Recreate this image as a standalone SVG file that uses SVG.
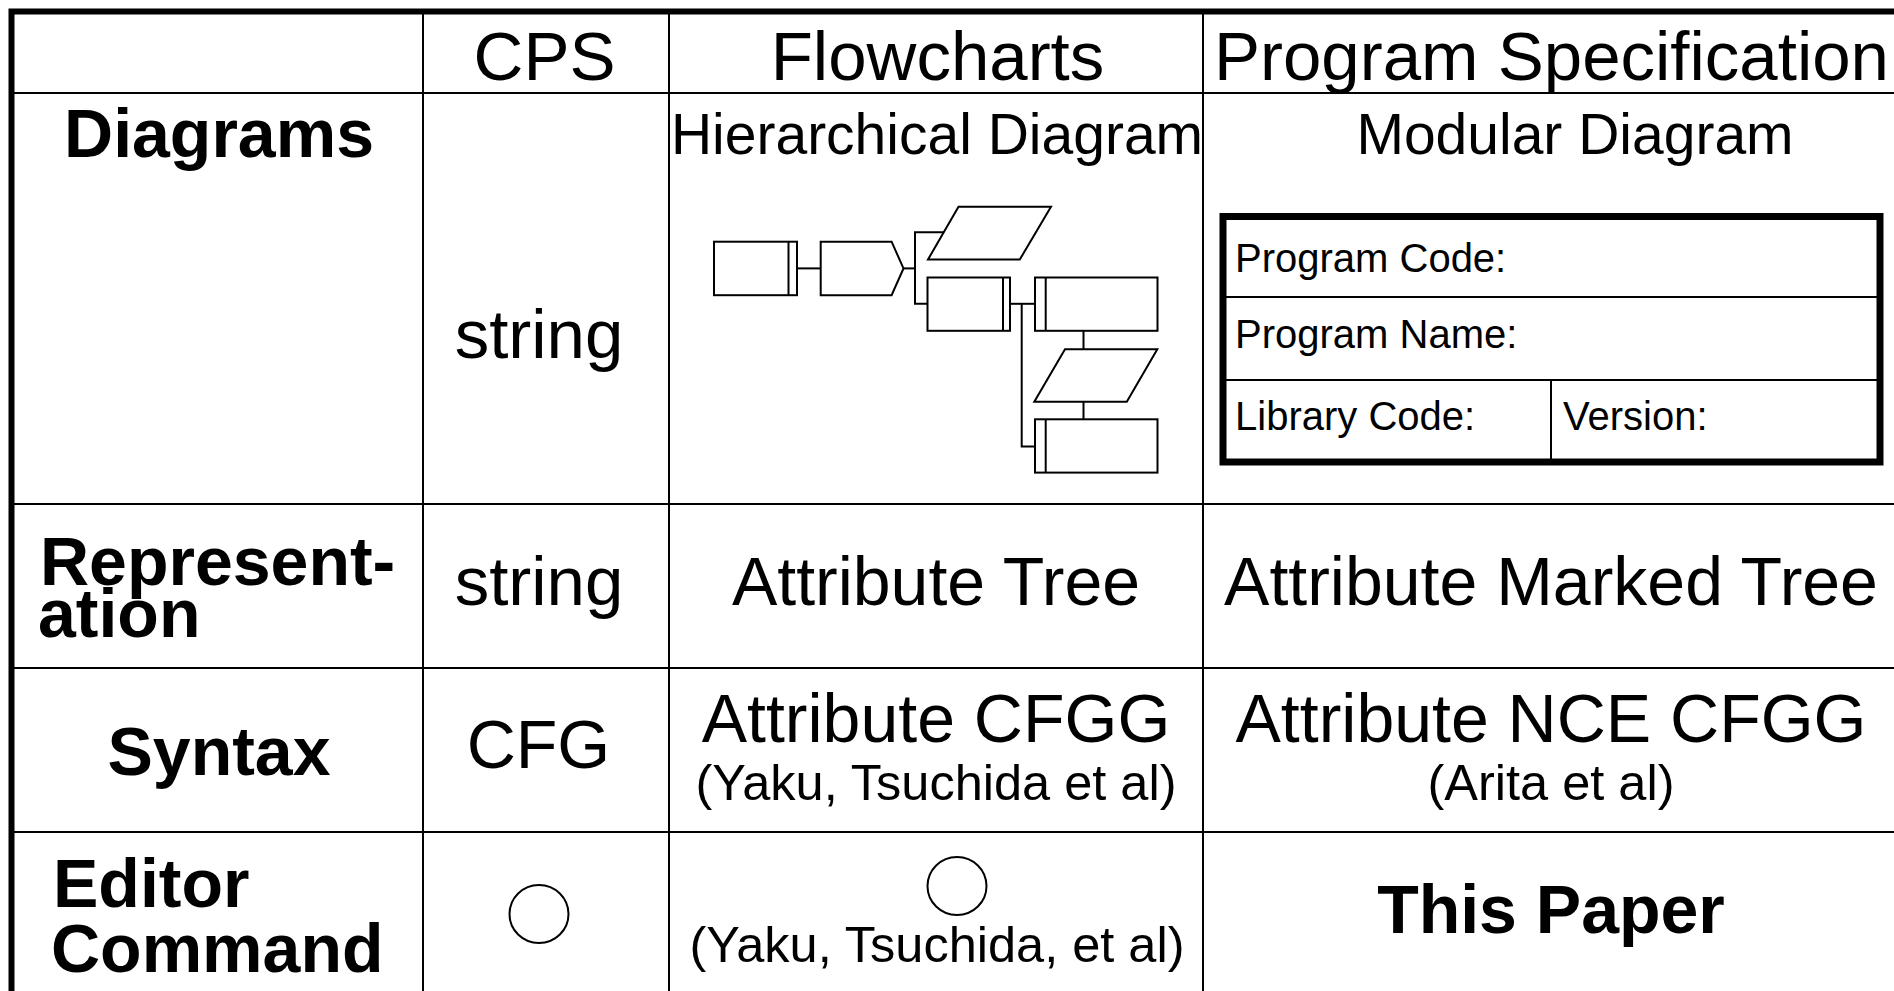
<svg xmlns="http://www.w3.org/2000/svg" width="1894" height="991" viewBox="0 0 1894 991">
  <style>
    .grid { stroke: #000; stroke-width: 2; fill: none; }
    .frame { stroke: #000; stroke-width: 6; fill: none; }
    .t { font-family: "Liberation Sans", Arial, Helvetica, sans-serif; fill: #000; }
    .b { font-weight: bold; }
    .hd { font-size: 69px; }
    .big { font-size: 68px; }
    .mid { font-size: 57px; }
    .cite { font-size: 50.5px; }
    .form { font-size: 40px; }
    .c { text-anchor: middle; }
    .shape { stroke: #000; stroke-width: 2; fill: #fff; stroke-linejoin: miter; }
    .link { stroke: #000; stroke-width: 2; fill: none; }
    .mark { stroke: #000; stroke-width: 2; fill: none; }
  </style>

  <rect width="1894" height="991" fill="#fff"/>

  <!-- table rules -->
  <g id="table">
    <line class="grid" x1="12" y1="93" x2="1894" y2="93"/>
    <line class="grid" x1="12" y1="504" x2="1894" y2="504"/>
    <line class="grid" x1="12" y1="668" x2="1894" y2="668"/>
    <line class="grid" x1="12" y1="832" x2="1894" y2="832"/>
    <line class="grid" x1="423" y1="12" x2="423" y2="991"/>
    <line class="grid" x1="669" y1="12" x2="669" y2="991"/>
    <line class="grid" x1="1203" y1="12" x2="1203" y2="991"/>
    <rect class="frame" x="11.5" y="11.5" width="1890" height="1000"/>
  </g>

  <!-- column headings -->
  <g id="head-cps"><text class="t hd c" x="544.5" y="80">CPS</text></g>
  <g id="head-flow"><text class="t hd c" x="937.5" y="80">Flowcharts</text></g>
  <g id="head-spec"><text class="t hd c" x="1551.5" y="80">Program Specification</text></g>

  <!-- row headings -->
  <g id="row-diagrams"><text class="t b big c" x="219" y="157">Diagrams</text></g>
  <g id="row-representation">
    <text class="t b big" x="40" y="585">Represent-</text>
    <text class="t b big" x="38" y="637">ation</text>
  </g>
  <g id="row-syntax"><text class="t b big c" x="219" y="775">Syntax</text></g>
  <g id="row-editor">
    <text class="t b big" x="53" y="907">Editor</text>
    <text class="t b big" x="51" y="972">Command</text>
  </g>

  <!-- CPS column -->
  <g id="cps-diagram"><text class="t hd c" x="539" y="358">string</text></g>
  <g id="cps-repr"><text class="t hd c" x="539" y="605">string</text></g>
  <g id="cps-syntax"><text class="t big c" x="538.5" y="768">CFG</text></g>
  <g id="cps-editor"><ellipse class="mark" cx="539" cy="914" rx="29.5" ry="29"/></g>

  <!-- Flowcharts column -->
  <g id="flow-diagram-title"><text class="t mid c" x="937" y="154">Hierarchical Diagram</text></g>

  <g id="hd-box1" class="node">
    <rect class="shape" x="714" y="241.7" width="83" height="53.5"/>
    <line class="link" x1="788.5" y1="241.7" x2="788.5" y2="295.2"/>
  </g>
  <g id="hd-box2" class="node">
    <polygon class="shape" points="820.7,241.7 891.6,241.7 903.5,268.4 891.6,295.2 820.7,295.2"/>
  </g>
  <g id="hd-io1" class="node">
    <polygon class="shape" points="958.5,206.7 1051,206.7 1019.8,259.5 928,259.5"/>
  </g>
  <g id="hd-box3" class="node">
    <rect class="shape" x="927.5" y="277.5" width="82.5" height="53.3"/>
    <line class="link" x1="1003" y1="277.5" x2="1003" y2="330.8"/>
  </g>
  <g id="hd-box4" class="node">
    <rect class="shape" x="1035" y="277.5" width="122.5" height="53.3"/>
    <line class="link" x1="1045.7" y1="277.5" x2="1045.7" y2="330.8"/>
  </g>
  <g id="hd-io2" class="node">
    <polygon class="shape" points="1065,349.3 1157.3,349.3 1126.8,401.7 1034.3,401.7"/>
  </g>
  <g id="hd-box5" class="node">
    <rect class="shape" x="1035" y="419.3" width="122.5" height="53.3"/>
    <line class="link" x1="1045.7" y1="419.3" x2="1045.7" y2="472.6"/>
  </g>

  <g id="hd-links">
    <line class="link" x1="797" y1="268.4" x2="820.7" y2="268.4"/>
    <line class="link" x1="903.5" y1="268.4" x2="915" y2="268.4"/>
    <polyline class="link" points="944,232.3 915,232.3 915,303.8 927.5,303.8"/>
    <line class="link" x1="1010" y1="303.8" x2="1035" y2="303.8"/>
    <polyline class="link" points="1021.7,303.8 1021.7,446.5 1035,446.5"/>
    <line class="link" x1="1083.5" y1="330.8" x2="1083.5" y2="349.3"/>
    <line class="link" x1="1083.5" y1="401.7" x2="1083.5" y2="419.3"/>
  </g>

  <g id="flow-repr"><text class="t big c" x="936" y="605">Attribute Tree</text></g>
  <g id="flow-syntax">
    <text class="t big c" x="936" y="742">Attribute CFGG</text>
    <text class="t cite c" x="936" y="800">(Yaku, Tsuchida et al)</text>
  </g>
  <g id="flow-editor">
    <ellipse class="mark" cx="957" cy="886" rx="29.5" ry="29"/>
    <text class="t cite c" x="937" y="962">(Yaku, Tsuchida, et al)</text>
  </g>

  <!-- Program Specification column -->
  <g id="spec-diagram-title"><text class="t mid c" x="1575" y="154">Modular Diagram</text></g>
  <g id="spec-form">
    <rect x="1223" y="216.5" width="657" height="245.5" fill="#fff" stroke="#000" stroke-width="7"/>
    <line class="grid" x1="1223" y1="297" x2="1880" y2="297"/>
    <line class="grid" x1="1223" y1="380" x2="1880" y2="380"/>
    <line class="grid" x1="1551" y1="380" x2="1551" y2="462"/>
    <text class="t form" x="1235" y="272">Program Code:</text>
    <text class="t form" x="1235" y="348">Program Name:</text>
    <text class="t form" x="1235" y="430">Library Code:</text>
    <text class="t form" x="1563" y="430">Version:</text>
  </g>
  <g id="spec-repr"><text class="t big c" x="1551" y="605">Attribute Marked Tree</text></g>
  <g id="spec-syntax">
    <text class="t big c" x="1551" y="742">Attribute NCE CFGG</text>
    <text class="t cite c" x="1551" y="800">(Arita et al)</text>
  </g>
  <g id="spec-editor"><text class="t b big c" x="1551" y="933">This Paper</text></g>
</svg>
